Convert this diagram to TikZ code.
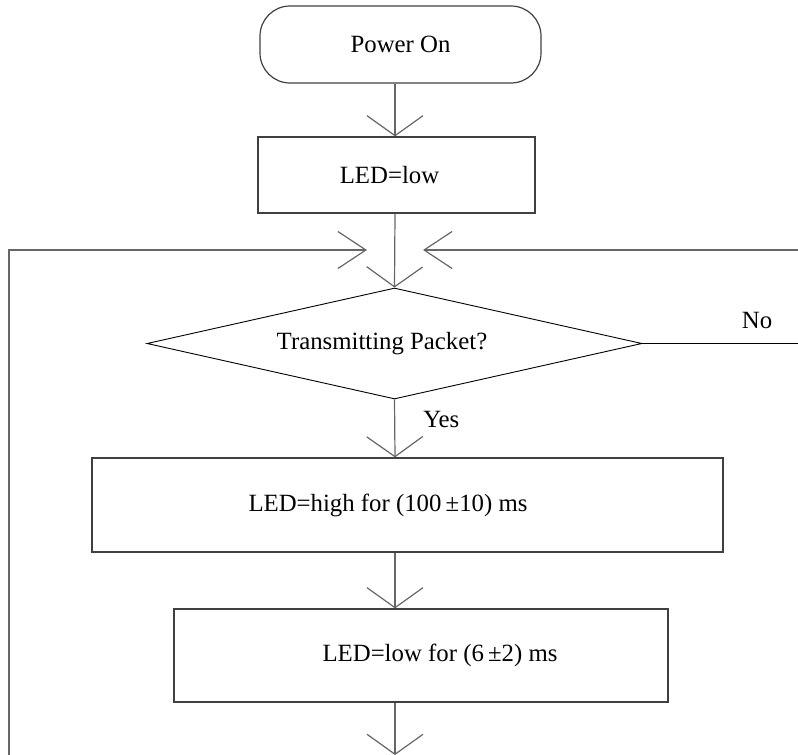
\documentclass[tikz,border=0pt]{standalone}
\usepackage{fontspec}
\setmainfont{Liberation Serif}
\usetikzlibrary{shapes.geometric,arrows.meta}

\tikzset{
  box/.style={draw=black!75,line width=1.2pt,rectangle,inner sep=0pt},
  flow/.style={draw=black!60,line width=1.2pt,-{Straight Barb[length=20pt,width=56pt]}},
  sideflow/.style={draw=black!60,line width=1.2pt,-{Straight Barb[length=28pt,width=37pt]}},
  branch/.style={inner sep=0pt}
}

\begin{document}
\begin{tikzpicture}[x=1pt,y=-1pt,font=\fontsize{24.8}{29}\selectfont]
\useasboundingbox (0,0) rectangle (798,755);
\coordinate (spine) at (395,0);
\coordinate (merge) at (395,250);
\coordinate (exit) at (395,755);
\coordinate (loopin) at (9,755);
\coordinate (retin) at (798,250);
\coordinate (noout) at (798,343.5);

\node[box,rounded corners=30pt,minimum width=281pt,minimum height=77pt] (start) at (400.5,44.5) {Power On};
\node[box,minimum width=277pt,minimum height=76pt] (ledlow) at (396.5,175) {\hspace*{-14pt}LED=low};
\node[diamond,draw,line width=0.9pt,aspect=4.46,minimum width=495pt,minimum height=111pt,inner sep=0pt] (check) at (394.5,343.5) {\hspace*{-25pt}Transmitting Packet?};
\node[box,minimum width=631pt,minimum height=94pt] (ledhigh) at (407.5,505) {\hspace*{-39pt}LED=high for (100\,±10) ms};
\node[box,minimum width=494pt,minimum height=93pt] (ledpause) at (421,655.5) {\hspace*{38pt}LED=low for (6\,±2) ms};

% main line
\draw[flow] (start.south -| spine) -- (ledlow.north -| spine);
\draw[flow] (ledlow.south -| spine) -- (check.north);
\draw[flow] (check.south) -- node[branch,pos=0.35,right=28pt]{Yes} (ledhigh.north -| spine);
\draw[flow] (ledhigh.south -| spine) -- (ledpause.north -| spine);
\draw[flow] (ledpause.south -| spine) -- (exit);

% loops back
\draw[sideflow] (loopin) |- ([xshift=-28pt]merge);
\draw[sideflow] (retin) -- ([xshift=28pt]merge);
\draw[line width=0.9pt] (check.east) -- node[branch,pos=0.737,above=14pt]{No} (noout);
\end{tikzpicture}
\end{document}
